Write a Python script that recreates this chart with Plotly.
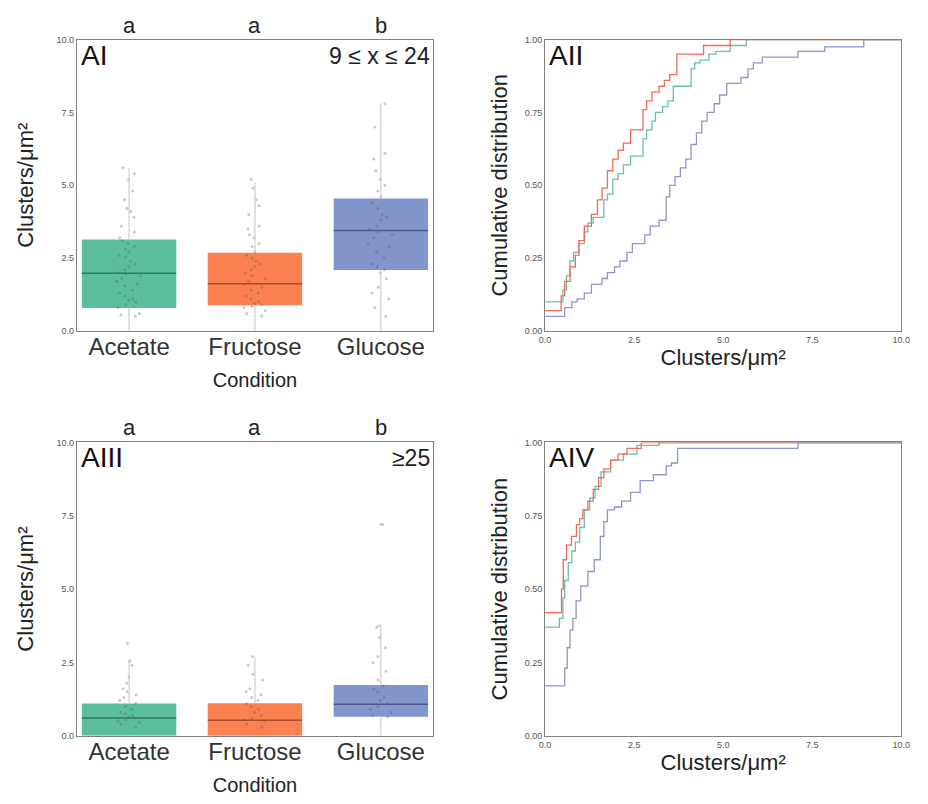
import plotly.graph_objects as go

# ---------------- data ----------------
categories = ["Acetate", "Fructose", "Glucose"]
letters = ["a", "a", "b"]

# Panel AI (9 <= x <= 24)
ai_q1 = [0.79, 0.88, 2.09]
ai_median = [1.98, 1.62, 3.45]
ai_q3 = [3.14, 2.68, 4.55]
ai_low = [0.0, 0.0, 0.0]
ai_high = [5.6, 5.1, 7.8]
ai_points_acetate = [5.6, 5.4, 5.2, 4.8, 4.5, 4.2, 4.1, 3.9, 3.6, 3.4, 3.2, 3.1, 3.0, 2.9, 2.8,
                     2.7, 2.6, 2.55, 2.4, 2.3, 2.2, 2.1, 2.0, 1.95, 1.9, 1.8, 1.7, 1.6, 1.55,
                     1.4, 1.3, 1.2, 1.1, 1.05, 1.0, 0.9, 0.8, 0.6, 0.55, 0.5]
ai_points_fructose = [5.2, 4.9, 4.5, 4.3, 4.0, 3.6, 3.5, 3.3, 3.2, 3.0, 2.9, 2.7, 2.6, 2.5, 2.4,
                      2.3, 2.2, 2.1, 2.0, 1.9, 1.8, 1.7, 1.6, 1.5, 1.4, 1.3, 1.2, 1.1, 1.0,
                      0.95, 0.9, 0.85, 0.8, 0.7, 0.6, 0.5]
ai_points_glucose = [7.8, 7.0, 6.1, 5.9, 5.5, 5.2, 5.0, 4.8, 4.6, 4.4, 4.2, 4.0, 3.9, 3.8, 3.6,
                     3.5, 3.4, 3.3, 3.2, 3.0, 2.9, 2.7, 2.5, 2.3, 2.2, 2.1, 2.0, 1.8, 1.5,
                     1.3, 1.1, 0.8, 0.5]

# Panel AIII (>= 25)
aiii_q1 = [0.0, 0.0, 0.65]
aiii_median = [0.6, 0.53, 1.07]
aiii_q3 = [1.1, 1.11, 1.73]
aiii_low = [0.0, 0.0, 0.0]
aiii_high = [2.6, 2.7, 3.75]
aiii_points_acetate = [3.15, 2.55, 2.4, 2.0, 1.8, 1.6, 1.5, 1.4, 1.3, 1.2, 1.1, 1.0, 0.9, 0.8,
                       0.75, 0.7, 0.65, 0.6, 0.55, 0.5, 0.45, 0.4, 0.3]
aiii_points_fructose = [2.7, 2.4, 2.1, 1.9, 1.6, 1.5, 1.4, 1.3, 1.2, 1.1, 1.0, 0.9, 0.8, 0.7,
                        0.6, 0.55, 0.5, 0.4, 0.3]
aiii_points_glucose = [7.2, 7.2, 3.75, 3.7, 3.35, 3.0, 2.7, 2.5, 2.2, 1.9, 1.7, 1.6, 1.5, 1.3,
                       1.2, 1.1, 1.0, 0.9, 0.8, 0.7, 0.65]

# Panel AII cumulative distributions (step breakpoints)
aii_acetate_x = [0, 0.5, 0.6, 0.7, 0.8, 0.95, 1.1, 1.2, 1.35, 1.65, 1.75, 1.9, 2.05, 2.2, 2.4,
                 2.75, 2.85, 3.0, 3.1, 3.3, 3.45, 3.6, 4.1, 4.2, 4.35, 4.6, 4.8, 5.2, 5.65, 10]
aii_acetate_y = [0.10, 0.14, 0.19, 0.24, 0.27, 0.30, 0.34, 0.37, 0.39, 0.45, 0.47, 0.52, 0.54,
                 0.57, 0.60, 0.66, 0.69, 0.72, 0.75, 0.77, 0.79, 0.84, 0.90, 0.92, 0.93, 0.95,
                 0.96, 0.98, 1.0, 1.0]
aii_fructose_x = [0, 0.45, 0.55, 0.7, 0.85, 0.95, 1.1, 1.3, 1.47, 1.6, 1.75, 1.9, 2.05, 2.2,
                  2.4, 2.75, 2.85, 3.0, 3.2, 3.35, 3.5, 3.7, 4.45, 5.2, 10]
aii_fructose_y = [0.07, 0.12, 0.17, 0.22, 0.26, 0.31, 0.36, 0.40, 0.45, 0.49, 0.55, 0.59, 0.62,
                  0.645, 0.69, 0.76, 0.79, 0.82, 0.84, 0.86, 0.88, 0.95, 0.98, 1.0, 1.0]
aii_glucose_x = [0, 0.55, 0.75, 0.9, 1.1, 1.3, 1.6, 1.75, 1.95, 2.1, 2.3, 2.45, 2.8, 2.95, 3.2,
                 3.4, 3.5, 3.65, 3.8, 3.95, 4.1, 4.25, 4.4, 4.55, 4.75, 4.9, 5.1, 5.5, 5.7,
                 5.85, 6.1, 7.1, 7.85, 8.95, 10]
aii_glucose_y = [0.05, 0.08, 0.10, 0.11, 0.13, 0.16, 0.18, 0.20, 0.22, 0.24, 0.27, 0.30, 0.33,
                 0.36, 0.38, 0.46, 0.50, 0.53, 0.56, 0.59, 0.64, 0.68, 0.72, 0.75, 0.78, 0.81,
                 0.85, 0.87, 0.90, 0.92, 0.94, 0.96, 0.975, 1.0, 1.0]

# Panel AIV cumulative distributions
aiv_acetate_x = [0, 0.4, 0.5, 0.55, 0.65, 0.75, 0.85, 0.97, 1.1, 1.25, 1.4, 1.57, 1.84, 2.2,
                 2.58, 3.2, 10]
aiv_acetate_y = [0.37, 0.40, 0.47, 0.53, 0.59, 0.63, 0.66, 0.71, 0.77, 0.81, 0.85, 0.90, 0.94,
                 0.96, 0.99, 1.0, 1.0]
aiv_fructose_x = [0, 0.46, 0.51, 0.6, 0.74, 0.88, 0.97, 1.06, 1.2, 1.35, 1.5, 1.65, 1.84, 2.05,
                  2.3, 2.7, 10]
aiv_fructose_y = [0.42, 0.50, 0.60, 0.65, 0.68, 0.72, 0.74, 0.77, 0.80, 0.84, 0.88, 0.91, 0.94,
                  0.96, 0.98, 1.0, 1.0]
aiv_glucose_x = [0, 0.55, 0.62, 0.7, 0.78, 0.87, 1.0, 1.2, 1.38, 1.55, 1.65, 1.75, 1.95, 2.15,
                 2.4, 2.67, 3.04, 3.4, 3.55, 3.72, 7.1, 10]
aiv_glucose_y = [0.17, 0.23, 0.30, 0.36, 0.40, 0.46, 0.51, 0.56, 0.60, 0.68, 0.73, 0.77, 0.78,
                 0.80, 0.83, 0.87, 0.89, 0.92, 0.93, 0.98, 1.0, 1.0]

# ---------------- style ----------------
FONT = "Arial, Liberation Sans, sans-serif"
box_fill = ["#5cbf9b", "#fc8152", "#8396cc"]
median_col = ["#2f7a5f", "#a44f2c", "#4b5a8c"]
line_col = ["#66c2a5", "#f26a55", "#8d95cf"]
frame_col = "#808080"
BOX_W = 0.75

fig = go.Figure()


def add_box_panel(xa, ya, q1, med, q3, lo, hi, pts):
    n = len(categories)
    xs = list(range(n))
    wx, wy = [], []
    for i in xs:
        wx += [i, i, None, i, i, None]
        wy += [lo[i], q1[i], None, q3[i], hi[i], None]
    fig.add_trace(go.Scatter(x=wx, y=wy, mode="lines", line=dict(color="#c4c4c4", width=1),
                             xaxis=xa, yaxis=ya, showlegend=False, hoverinfo="skip"))
    fig.add_trace(go.Bar(x=xs, y=[q3[i] - q1[i] for i in xs], base=q1, width=BOX_W,
                         marker=dict(color=box_fill, line=dict(width=0)),
                         xaxis=xa, yaxis=ya, showlegend=False))
    for i in xs:
        fig.add_trace(go.Scatter(x=[i - BOX_W / 2, i + BOX_W / 2], y=[med[i], med[i]],
                                 mode="lines", line=dict(color=median_col[i], width=1.5),
                                 xaxis=xa, yaxis=ya, showlegend=False, hoverinfo="skip"))
    for i in xs:
        fig.add_trace(go.Box(y=pts[i], x0=i, width=0.35, boxpoints="all", jitter=0.6, pointpos=0,
                             fillcolor="rgba(0,0,0,0)", line=dict(color="rgba(0,0,0,0)", width=0),
                             marker=dict(color="rgba(80,80,80,0.3)", size=3),
                             xaxis=xa, yaxis=ya, showlegend=False))


add_box_panel("x", "y", ai_q1, ai_median, ai_q3, ai_low, ai_high,
              [ai_points_acetate, ai_points_fructose, ai_points_glucose])
add_box_panel("x3", "y3", aiii_q1, aiii_median, aiii_q3, aiii_low, aiii_high,
              [aiii_points_acetate, aiii_points_fructose, aiii_points_glucose])

for xa, ya, series in [
    ("x2", "y2", [(aii_acetate_x, aii_acetate_y), (aii_fructose_x, aii_fructose_y),
                  (aii_glucose_x, aii_glucose_y)]),
    ("x4", "y4", [(aiv_acetate_x, aiv_acetate_y), (aiv_fructose_x, aiv_fructose_y),
                  (aiv_glucose_x, aiv_glucose_y)]),
]:
    for i, (sx, sy) in enumerate(series):
        fig.add_trace(go.Scatter(x=sx, y=sy, mode="lines", line_shape="hv",
                                 line=dict(color=line_col[i], width=1.3),
                                 xaxis=xa, yaxis=ya, showlegend=False, name=categories[i]))

# page is 928x804; the html body has an 8px margin, so the figure is 912x788
PAGE_OFF = 8
W, H = 912, 788


def dx(px):
    return (px - PAGE_OFF) / W


def dy(py):
    return 1 - (py - PAGE_OFF) / H


dom_left = [dx(72), dx(434)]
dom_right = [dx(548), dx(910)]
dom_top = [dy(330), dy(35)]
dom_bot = [dy(740), dy(443)]

tickfont = dict(family=FONT, size=9, color="#555555")
axis_common = dict(showline=True, mirror=True, linecolor=frame_col, linewidth=1.3,
                   showgrid=False, zeroline=False, ticks="", tickfont=tickfont)

cat_axis = dict(axis_common, range=[-0.414, 2.414], tickvals=[0, 1, 2], ticktext=categories,
                ticklabelstandoff=-6,
                tickfont=dict(family=FONT, size=24, color="#333333"))
box_y = dict(axis_common, range=[0, 10], tickvals=[0, 2.5, 5, 7.5, 10], tickformat=".1f",
             title=dict(text="Clusters/μm²", font=dict(family=FONT, size=22, color="#222222"),
                        standoff=16))
cdf_x = dict(axis_common, range=[0, 10], tickvals=[0, 2.5, 5, 7.5, 10], tickformat=".1f",
             title=dict(text="Clusters/μm²", font=dict(family=FONT, size=22, color="#222222"),
                        standoff=4))
cdf_y = dict(axis_common, range=[0, 1], tickvals=[0, 0.25, 0.5, 0.75, 1.0], tickformat=".2f",
             title=dict(text="Cumulative distribution",
                        font=dict(family=FONT, size=22, color="#222222"), standoff=10))

cond_title = dict(text="Condition", font=dict(family=FONT, size=20, color="#222222"), standoff=14)

fig.update_layout(
    width=W, height=H,
    margin=dict(l=0, r=0, t=0, b=0),
    paper_bgcolor="white", plot_bgcolor="white",
    barmode="overlay", boxmode="overlay",
    font=dict(family=FONT),
    xaxis=dict(cat_axis, domain=dom_left, anchor="y", title=cond_title),
    yaxis=dict(box_y, domain=dom_top, anchor="x"),
    xaxis2=dict(cdf_x, domain=dom_right, anchor="y2"),
    yaxis2=dict(cdf_y, domain=dom_top, anchor="x2"),
    xaxis3=dict(cat_axis, domain=dom_left, anchor="y3", title=cond_title),
    yaxis3=dict(box_y, domain=dom_bot, anchor="x3"),
    xaxis4=dict(cdf_x, domain=dom_right, anchor="y4"),
    yaxis4=dict(cdf_y, domain=dom_bot, anchor="x4"),
)

annotations = []
for xa, ya in [("x", "y"), ("x3", "y3")]:
    for i, t in enumerate(letters):
        annotations.append(dict(text=t, x=i, xref=xa, y=1, yref=f"{ya} domain",
                                yanchor="bottom", showarrow=False, yshift=0,
                                font=dict(family=FONT, size=22, color="#222222")))

panel_labels = [("AI", "x", "y"), ("AII", "x2", "y2"), ("AIII", "x3", "y3"), ("AIV", "x4", "y4")]
for txt, xa, ya in panel_labels:
    annotations.append(dict(text=txt, x=0, xref=f"{xa} domain", y=1, yref=f"{ya} domain",
                            xanchor="left", yanchor="top", showarrow=False, xshift=2, yshift=2,
                            font=dict(family=FONT, size=28, color="#111111")))

for txt, xa, ya in [("9 ≤ x ≤ 24", "x", "y"), ("≥25", "x3", "y3")]:
    annotations.append(dict(text=txt, x=1, xref=f"{xa} domain", y=1, yref=f"{ya} domain",
                            xanchor="right", yanchor="top", showarrow=False, xshift=-1,
                            yshift=-1, font=dict(family=FONT, size=23, color="#222222")))

fig.update_layout(annotations=annotations)

fig.write_html("out.html")
